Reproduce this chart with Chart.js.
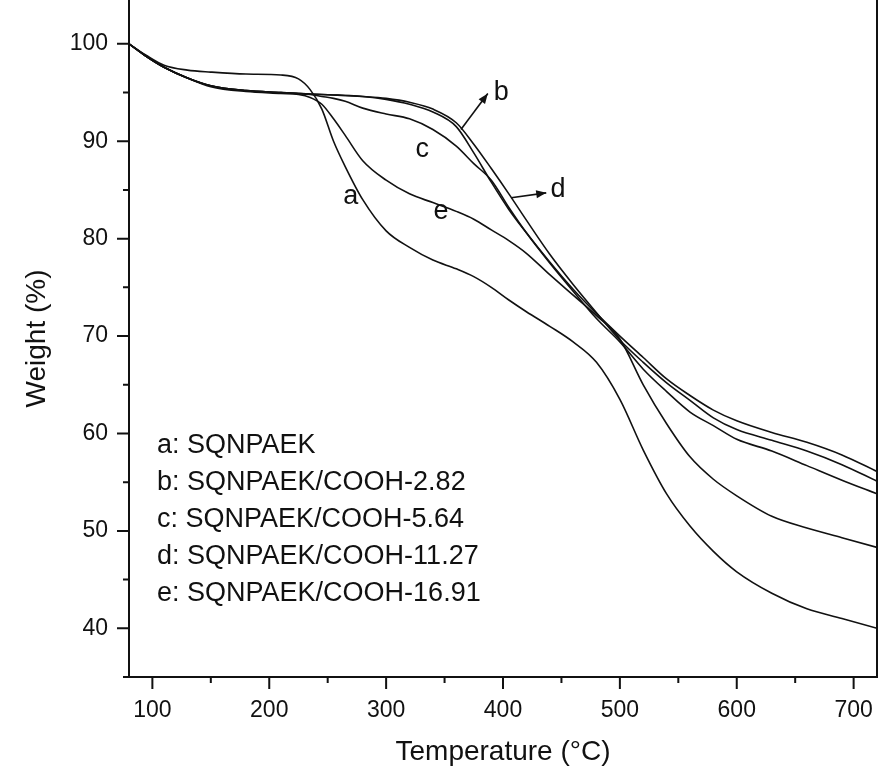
<!DOCTYPE html>
<html>
<head>
<meta charset="utf-8">
<script src="https://cdn.jsdelivr.net/npm/chart.js@4.4.1/dist/chart.umd.min.js"></script>
<style>
  html, body { margin: 0; padding: 0; background: #fff; }
  #wrap { width: 879px; height: 771px; }
</style>
</head>
<body>
<div id="wrap"><canvas id="tga" width="879" height="771"></canvas></div>
<script>
// temperature samples (°C) shared by every curve
var temps = [80, 95, 110, 130, 150, 180, 210, 225, 235, 245, 255, 265, 280, 300, 320, 340, 360, 375, 390, 405, 420, 440, 460, 480, 500, 520, 540, 560, 580, 600, 630, 660, 690, 720];

// weight (%)
var wA = [100, 98.8, 97.8, 97.3, 97.1, 96.9, 96.8, 96.4, 95.3, 93.3, 90.0, 87.4, 84.0, 80.8, 79.1, 77.8, 76.9, 76.1, 75.0, 73.7, 72.5, 71.0, 69.4, 67.3, 63.5, 58.3, 53.8, 50.5, 47.9, 45.8, 43.6, 42.0, 41.0, 40.0];
var wB = [100, 98.7, 97.6, 96.5, 95.7, 95.2, 95.0, 94.9, 94.85, 94.8, 94.75, 94.7, 94.6, 94.3, 93.8, 93.0, 91.5, 88.8, 85.8, 83.0, 80.6, 77.6, 74.8, 72.3, 70.0, 67.8, 65.6, 63.9, 62.4, 61.3, 60.1, 59.1, 57.8, 56.1];
var wC = [100, 98.7, 97.6, 96.5, 95.7, 95.2, 95.0, 94.9, 94.8, 94.6, 94.4, 94.1, 93.4, 92.8, 92.3, 91.2, 89.5, 87.7, 86.0, 83.2, 80.6, 77.5, 74.6, 71.8, 69.4, 66.6, 64.3, 62.2, 60.8, 59.4, 58.2, 56.7, 55.2, 53.8];
var wD = [100, 98.7, 97.6, 96.5, 95.7, 95.2, 95.0, 94.9, 94.85, 94.8, 94.75, 94.7, 94.6, 94.4, 94.0, 93.3, 91.9, 89.7, 87.2, 84.6, 81.9, 78.4, 75.3, 72.4, 69.6, 67.3, 65.2, 63.4, 61.6, 60.4, 59.3, 58.2, 56.8, 55.1];
var wE = [100, 98.7, 97.6, 96.5, 95.6, 95.1, 94.9, 94.8, 94.5, 93.8, 92.3, 90.6, 88.0, 86.0, 84.6, 83.7, 82.8, 82.0, 80.9, 79.8, 78.5, 76.3, 74.2, 72.1, 69.7, 65.0, 61.0, 57.6, 55.3, 53.6, 51.5, 50.3, 49.3, 48.3];

var seriesNames = ['a', 'b', 'c', 'd', 'e'];
var seriesValues = [wA, wB, wC, wD, wE];

var xTicks = [100, 200, 300, 400, 500, 600, 700];
var xMinor = [150, 250, 350, 450, 550, 650];
var yTicks = [40, 50, 60, 70, 80, 90, 100];
var yMinor = [45, 55, 65, 75, 85, 95];

var legendLines = ['a: SQNPAEK', 'b: SQNPAEK/COOH-2.82', 'c: SQNPAEK/COOH-5.64', 'd: SQNPAEK/COOH-11.27', 'e: SQNPAEK/COOH-16.91'];

// curve letters placed in data coordinates [text, T, W]
var letters = [['a', 269.7, 84.3], ['b', 398.5, 95.0], ['c', 331, 89.1], ['d', 447, 85.0], ['e', 347, 82.8]];
// arrows [fromT, fromW, toT, toW]
var arrows = [[364, 91.2, 387, 94.9], [407, 84.2, 437, 84.7]];

var FONT = '"Liberation Sans", Arial, sans-serif';
var INK = '#111';

var datasets = seriesValues.map(function(vals, i) {
    return {
        label: seriesNames[i],
        data: vals.map(function(v, j) { return {x: temps[j], y: v}; }),
        borderColor: INK,
        borderWidth: 1.6,
        pointRadius: 0,
        fill: false,
        cubicInterpolationMode: 'monotone'
    };
});

function arrowHead(ctx, x1, y1, x2, y2) {
    var ang = Math.atan2(y2 - y1, x2 - x1);
    var len = 10, half = 4;
    ctx.beginPath();
    ctx.moveTo(x2, y2);
    ctx.lineTo(x2 - len * Math.cos(ang) + half * Math.sin(ang), y2 - len * Math.sin(ang) - half * Math.cos(ang));
    ctx.lineTo(x2 - len * Math.cos(ang) - half * Math.sin(ang), y2 - len * Math.sin(ang) + half * Math.cos(ang));
    ctx.closePath();
    ctx.fill();
}

var decor = {
    id: 'decor',
    afterDraw: function(chart) {
        var ctx = chart.ctx;
        var x = chart.scales.x, y = chart.scales.y;
        var area = chart.chartArea;
        ctx.save();
        ctx.strokeStyle = INK;
        ctx.fillStyle = INK;
        ctx.lineWidth = 2;

        // right frame line and the small overhang of the bottom axis
        ctx.beginPath();
        ctx.moveTo(area.right, area.top);
        ctx.lineTo(area.right, area.bottom + 1);
        ctx.moveTo(area.left - 6, area.bottom);
        ctx.lineTo(area.left, area.bottom);
        ctx.stroke();

        // tick marks, outward
        ctx.beginPath();
        xTicks.forEach(function(v) { var p = x.getPixelForValue(v); ctx.moveTo(p, area.bottom); ctx.lineTo(p, area.bottom + 12); });
        xMinor.forEach(function(v) { var p = x.getPixelForValue(v); ctx.moveTo(p, area.bottom); ctx.lineTo(p, area.bottom + 6); });
        yTicks.forEach(function(v) { var p = y.getPixelForValue(v); ctx.moveTo(area.left, p); ctx.lineTo(area.left - 12, p); });
        yMinor.forEach(function(v) { var p = y.getPixelForValue(v); ctx.moveTo(area.left, p); ctx.lineTo(area.left - 6, p); });
        ctx.stroke();

        // curve letters
        ctx.font = '27px ' + FONT;
        ctx.textAlign = 'center';
        ctx.textBaseline = 'middle';
        letters.forEach(function(l) {
            ctx.fillText(l[0], x.getPixelForValue(l[1]), y.getPixelForValue(l[2]));
        });

        // arrows
        ctx.lineWidth = 1.6;
        arrows.forEach(function(a) {
            var x1 = x.getPixelForValue(a[0]), y1 = y.getPixelForValue(a[1]);
            var x2 = x.getPixelForValue(a[2]), y2 = y.getPixelForValue(a[3]);
            ctx.beginPath();
            ctx.moveTo(x1, y1);
            ctx.lineTo(x2, y2);
            ctx.stroke();
            arrowHead(ctx, x1, y1, x2, y2);
        });

        // sample list
        ctx.textAlign = 'left';
        var lx = x.getPixelForValue(104);
        legendLines.forEach(function(t, i) {
            ctx.fillText(t, lx, y.getPixelForValue(58.8 - i * 3.8));
        });
        ctx.restore();
    }
};

new Chart(document.getElementById('tga'), {
    type: 'line',
    data: { datasets: datasets },
    options: {
        responsive: false,
        animation: false,
        layout: { padding: { top: 0, right: 2, bottom: 0, left: 0 } },
        plugins: { legend: { display: false }, tooltip: { enabled: false } },
        scales: {
            x: {
                type: 'linear',
                min: 80,
                max: 720,
                afterFit: function(s) { s.height = 94; s.paddingLeft = 0; s.paddingRight = 0; },
                afterBuildTicks: function(s) { s.ticks = xTicks.map(function(v) { return {value: v}; }); },
                grid: { display: false, drawTicks: false },
                border: { display: true, color: INK, width: 2 },
                ticks: { padding: 20, color: INK, font: { family: FONT, size: 23 } },
                title: { display: true, text: 'Temperature (°C)', color: INK, font: { family: FONT, size: 28 }, padding: { top: 0, bottom: 2 } }
            },
            y: {
                type: 'linear',
                min: 35,
                max: 104.5,
                afterFit: function(s) { s.width = 129; s.paddingTop = 0; s.paddingBottom = 0; },
                afterBuildTicks: function(s) { s.ticks = yTicks.map(function(v) { return {value: v}; }); },
                grid: { display: false, drawTicks: false },
                border: { display: true, color: INK, width: 2 },
                ticks: { padding: 21, color: INK, font: { family: FONT, size: 23 } },
                title: { display: true, text: 'Weight (%)', color: INK, font: { family: FONT, size: 28 }, padding: { top: 20, bottom: 0 } }
            }
        }
    },
    plugins: [decor]
});
</script>
</body>
</html>
